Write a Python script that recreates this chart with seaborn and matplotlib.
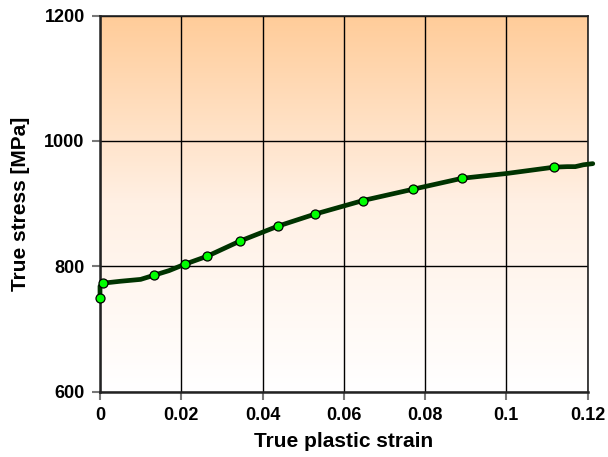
import numpy as np
import pandas as pd
import matplotlib
matplotlib.use("Agg")
import matplotlib.pyplot as plt
from matplotlib.colors import LinearSegmentedColormap
import seaborn as sns

strain_line = [0.0, 0.0, 0.0008, 0.005, 0.010, 0.0132, 0.0170, 0.0208, 0.0264, 0.0344,
               0.0438, 0.0528, 0.0648, 0.0771, 0.0891, 0.100, 0.1118, 0.1150, 0.1170,
               0.1190, 0.1213]
stress_line = [749, 768, 773, 776, 779, 785.4, 793, 803, 816, 840,
               864, 883, 905, 923, 940.4, 948, 958.2, 959, 959,
               962, 963.8]

# Markers
strain_pts = [0.0, 0.0008, 0.0132, 0.0208, 0.0264, 0.0344, 0.0438, 0.0528,
              0.0648, 0.0771, 0.0891, 0.1118]
stress_pts = [748.7, 772.6, 785.4, 803, 816, 840, 864, 883,
              904.8, 923.3, 940.4, 958.2]

x_ticks = [0, 0.02, 0.04, 0.06, 0.08, 0.1, 0.12]
x_ticklabels = ["0", "0.02", "0.04", "0.06", "0.08", "0.1", "0.12"]
y_ticks = [600, 800, 1000, 1200]

sns.set_style("white")
plt.rcParams['font.family'] = ['Liberation Sans', 'DejaVu Sans']
plt.rcParams['font.weight'] = 'bold'
plt.rcParams['text.color'] = 'black'
plt.rcParams['axes.labelcolor'] = 'black'
plt.rcParams['xtick.labelcolor'] = 'black'
plt.rcParams['ytick.labelcolor'] = 'black'

fig = plt.figure(figsize=(6.08, 4.57), dpi=100)
ax = fig.add_axes([100/608, 1-391.5/457, 487.5/608, (391.5-15.7)/457])

# gradient background
cmap = LinearSegmentedColormap.from_list("bg", ["#FFFFFF", "#FFF0E4", "#FFCC99"])
grad = np.linspace(0, 1, 256).reshape(-1, 1)
ax.imshow(grad, aspect='auto', cmap=cmap, origin='lower',
          extent=[0, 0.12, 600, 1200], zorder=0)

df_line = pd.DataFrame({"strain": strain_line, "stress": stress_line})
df_pts = pd.DataFrame({"strain": strain_pts, "stress": stress_pts})

sns.lineplot(data=df_line, x="strain", y="stress", ax=ax, color="#003300",
             linewidth=3.4, sort=False, estimator=None, zorder=3, clip_on=False)
sns.scatterplot(data=df_pts, x="strain", y="stress", ax=ax, color="#00FF00",
                edgecolor="black", linewidth=0.9, s=42, zorder=4, clip_on=False)

ax.set_xlim(0, 0.12)
ax.set_ylim(600, 1200)
ax.set_xticks(x_ticks)
ax.set_xticklabels(x_ticklabels)
ax.set_yticks(y_ticks)
ax.grid(True, color="black", linewidth=1.0)
for gl in ax.get_xgridlines() + ax.get_ygridlines():
    gl.set_zorder(1)

for s in ["left", "bottom"]:
    ax.spines[s].set_linewidth(1.8)
    ax.spines[s].set_color("#222222")
for s in ["top", "right"]:
    ax.spines[s].set_linewidth(1.2)
    ax.spines[s].set_color("#222222")

ax.tick_params(axis='both', direction='out', length=6, width=1.5, color="#777777",
               labelsize=13, pad=5, bottom=True, left=True, labelcolor='black')
for lab in ax.get_xticklabels() + ax.get_yticklabels():
    lab.set_fontweight('bold')

ax.set_xlabel("True plastic strain", fontsize=15, fontweight='bold', labelpad=6, color='black')
ax.set_ylabel("True stress [MPa]", fontsize=15, fontweight='bold', labelpad=10, color='black')

fig.savefig("out.png", dpi=100)
